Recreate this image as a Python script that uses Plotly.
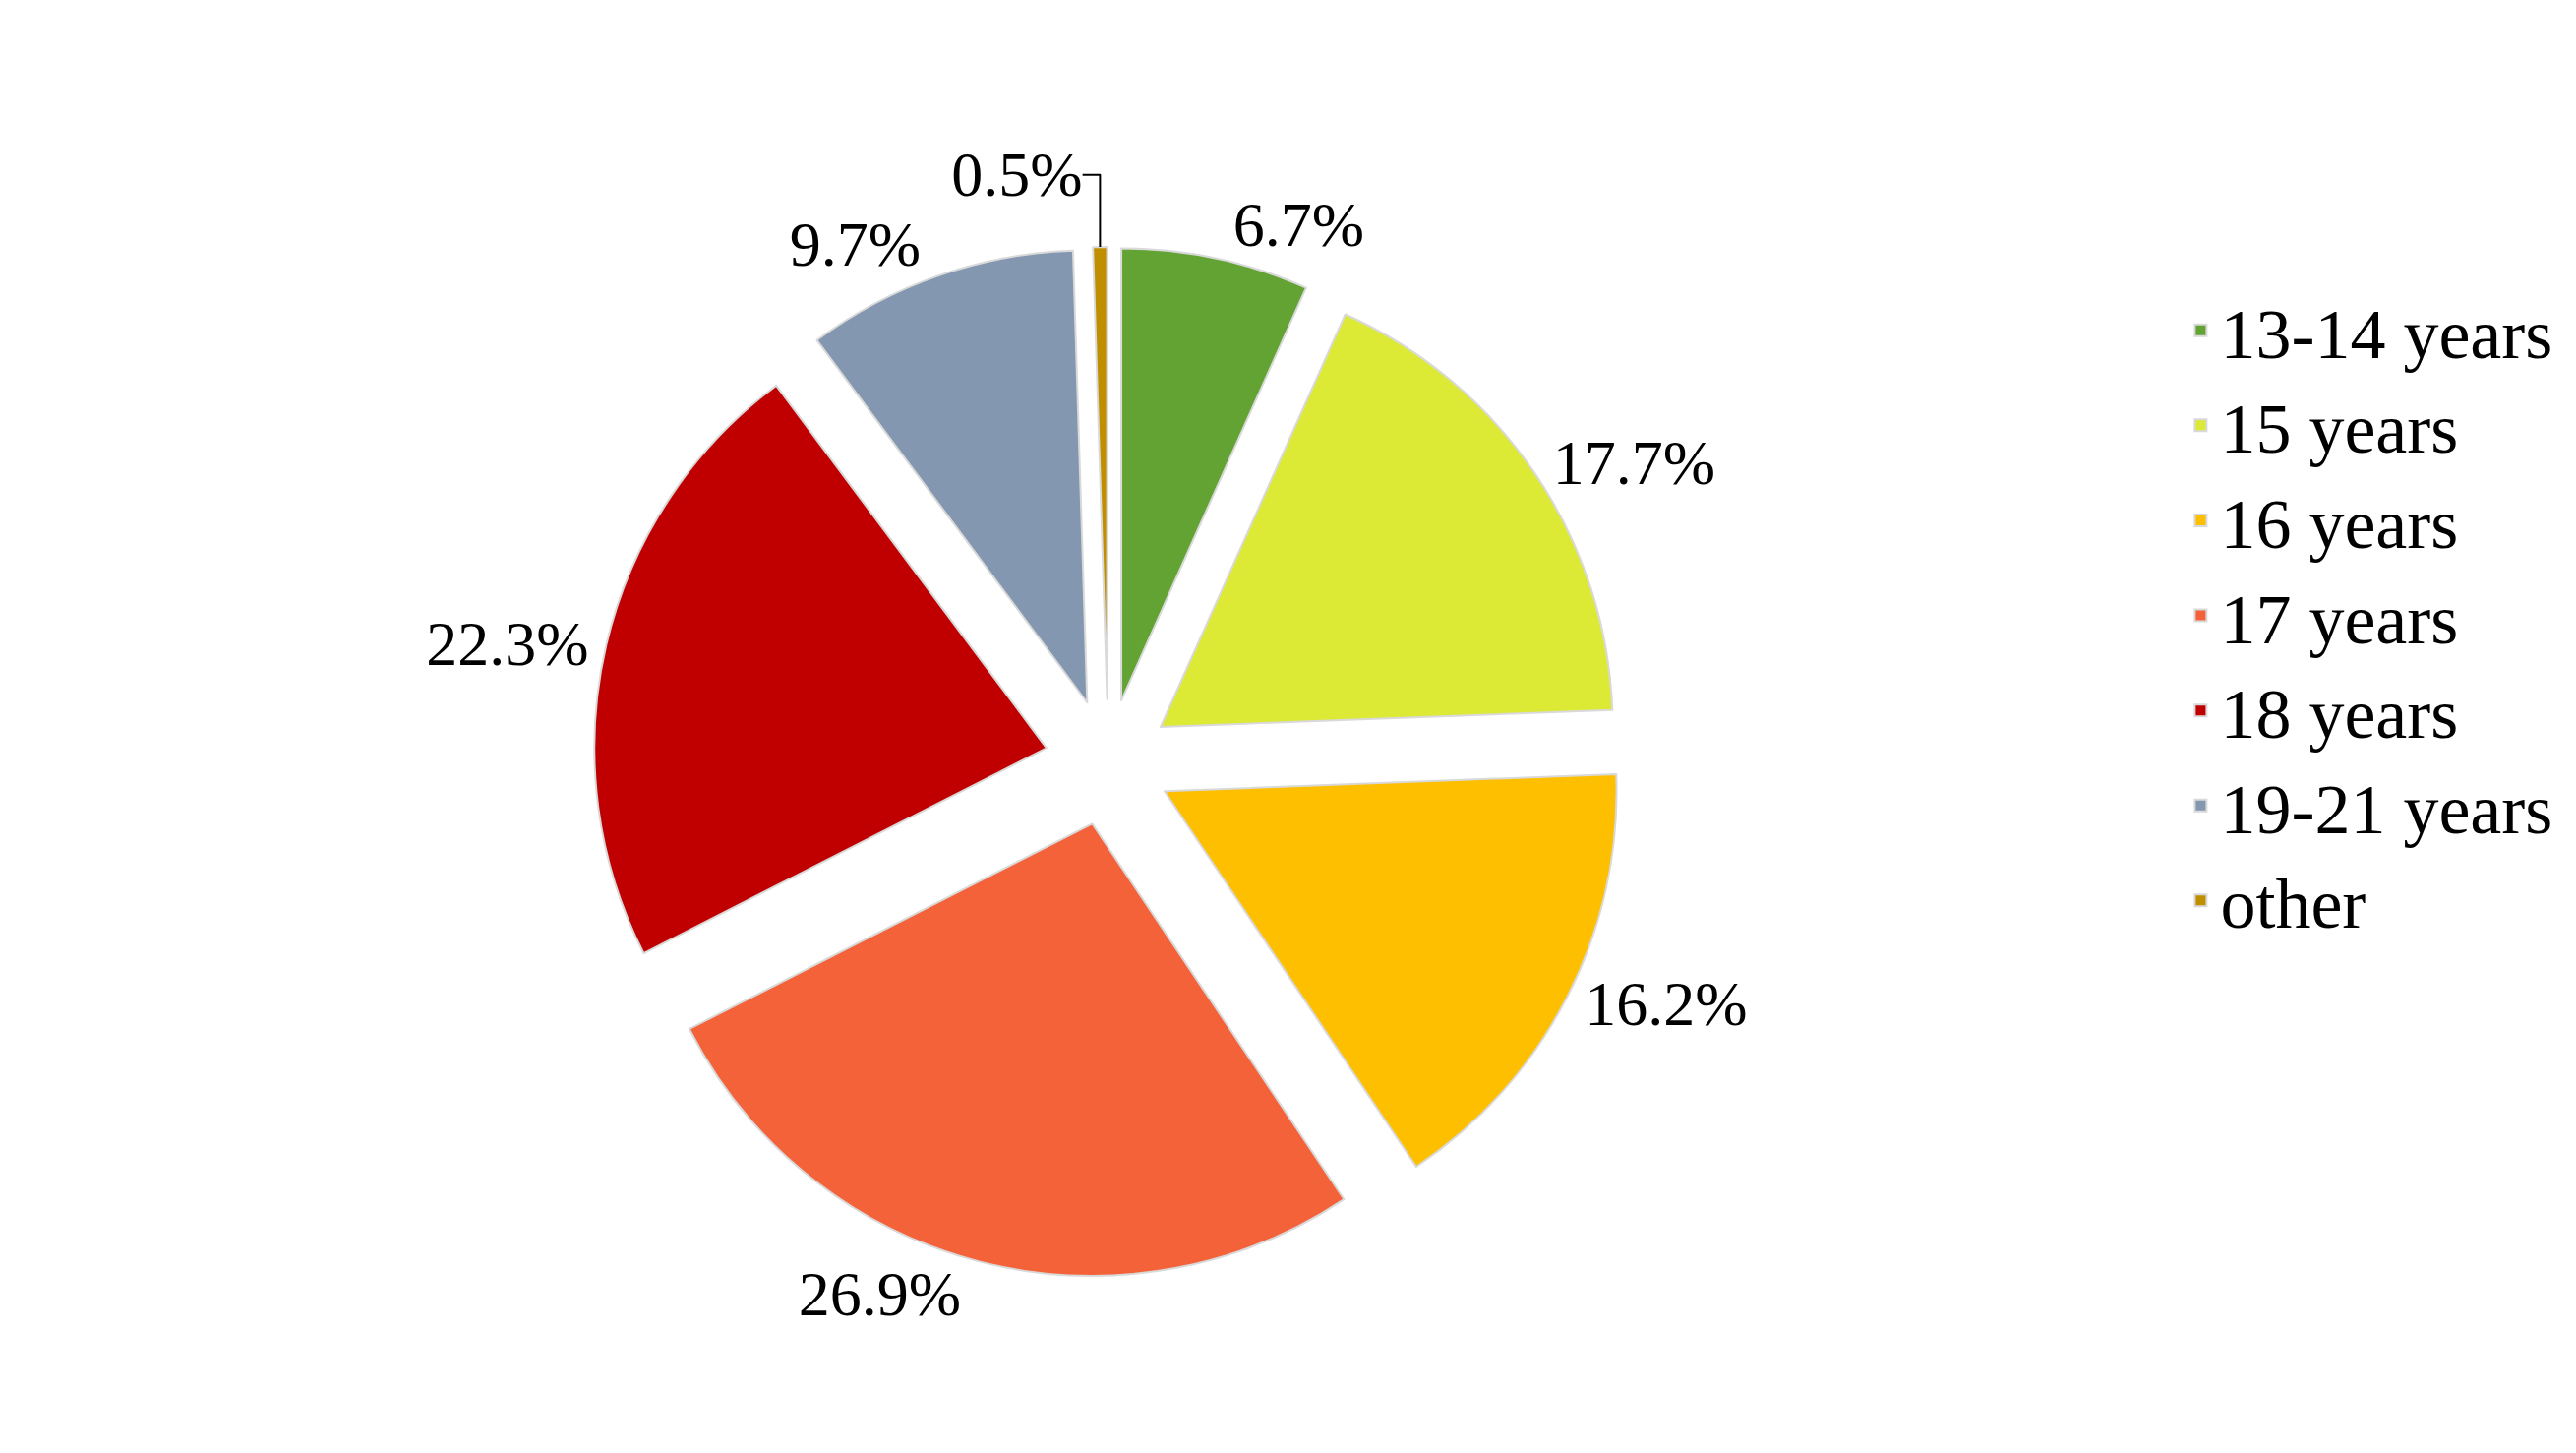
import plotly.graph_objects as go

labels = ["13-14 years", "15 years", "16 years", "17 years", "18 years", "19-21 years", "other"]
values = [6.7, 17.7, 16.2, 26.9, 22.3, 9.7, 0.5]
colors = ["#63A334", "#DCE935", "#FDBF00", "#F4623A", "#C00000", "#8497B0", "#BF8F00"]
pulls = [0.14, 0.14, 0.14, 0.14, 0.14, 0.14, 0.14]

fig = go.Figure(go.Pie(
    labels=labels, values=values, sort=False, direction="clockwise", rotation=0,
    marker=dict(colors=colors, line=dict(color="#D9D9D9", width=2)),
    pull=pulls,
    texttemplate="%{value:.1f}%", textposition="outside",
    textfont=dict(family="Liberation Serif", size=64, color="black"),
    domain=dict(x=[0.0, 0.62], y=[0.0, 1.0]),
))
fig.update_layout(
    width=2619, height=1477, paper_bgcolor="white",
    margin=dict(l=0, r=10, t=40, b=10),
    font=dict(family="Liberation Serif", size=64, color="black"),
    legend=dict(x=0.815, y=0.97, xanchor="left", yanchor="top",
                itemsizing="constant", font=dict(size=72)),
)
fig.write_html("out.html")
